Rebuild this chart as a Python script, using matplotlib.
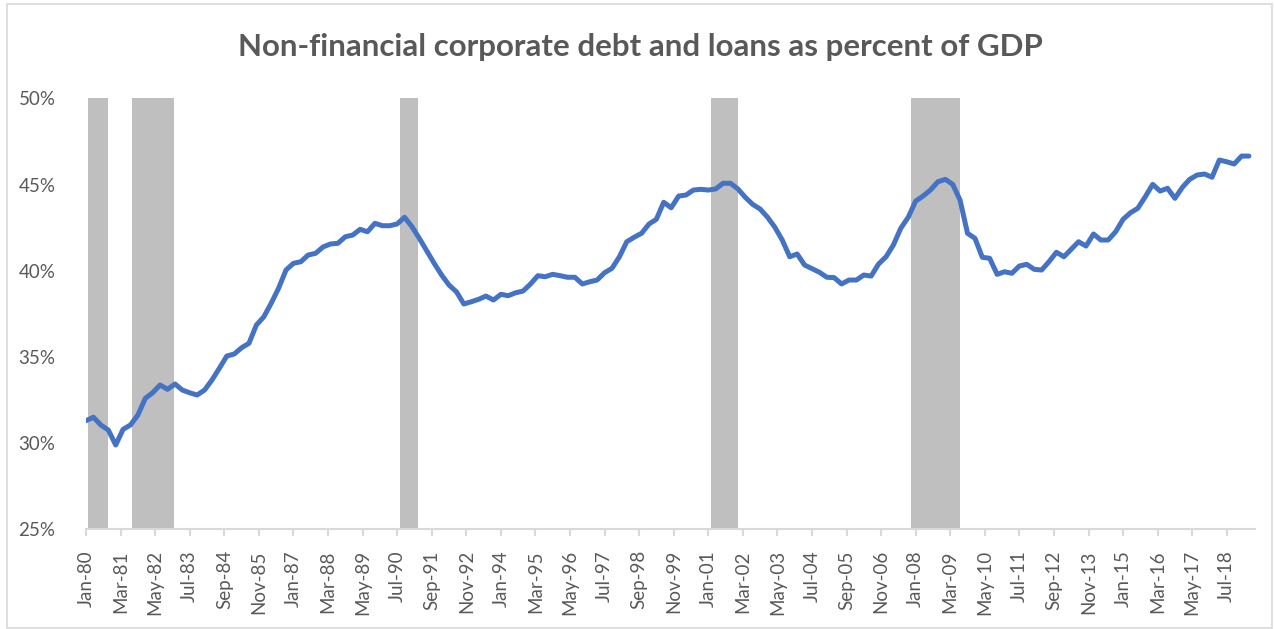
import pandas as pd
import matplotlib.pyplot as plt
import matplotlib.dates as md
from matplotlib.patches import Rectangle
from matplotlib.ticker import FuncFormatter

# quarterly ratio, 1980Q1 onwards (percent of GDP)
debt_pct = [
    31.30, 31.50, 31.05, 30.76, 29.89, 30.80, 31.05, 31.63, 32.60, 32.92,
    33.37, 33.12, 33.43, 33.08, 32.92, 32.79, 33.08, 33.66, 34.34, 35.05,
    35.17, 35.53, 35.79, 36.85, 37.33, 38.11, 38.98, 40.04, 40.43, 40.52,
    40.91, 41.01, 41.38, 41.55, 41.59, 41.97, 42.07, 42.40, 42.26, 42.75,
    42.61, 42.61, 42.71, 43.10, 42.55, 41.88, 41.16, 40.43, 39.75, 39.17,
    38.78, 38.07, 38.20, 38.34, 38.53, 38.30, 38.63, 38.55, 38.72, 38.82,
    39.23, 39.71, 39.65, 39.79, 39.71, 39.62, 39.62, 39.23, 39.36, 39.46,
    39.88, 40.14, 40.81, 41.68, 41.94, 42.17, 42.71, 42.98, 43.97, 43.65,
    44.33, 44.39, 44.68, 44.72, 44.68, 44.74, 45.07, 45.07, 44.74, 44.26,
    43.85, 43.58, 43.10, 42.52, 41.78, 40.81, 40.97, 40.33, 40.12, 39.91,
    39.62, 39.60, 39.23, 39.46, 39.46, 39.75, 39.69, 40.39, 40.81, 41.49,
    42.46, 43.10, 44.04, 44.33, 44.68, 45.16, 45.30, 45.01, 44.10, 42.17,
    41.88, 40.78, 40.72, 39.79, 39.94, 39.85, 40.27, 40.37, 40.08, 40.04,
    40.52, 41.07, 40.81, 41.24, 41.68, 41.43, 42.13, 41.78, 41.78, 42.26,
    42.98, 43.36, 43.62, 44.29, 45.01, 44.62, 44.78, 44.20, 44.84, 45.30,
    45.55, 45.61, 45.42, 46.42, 46.32, 46.19, 46.65, 46.65,
]
quarters = pd.date_range("1980-01-01", periods=len(debt_pct), freq="QS")

# shaded recession periods
rec_start = ["1980-01-20", "1981-07-20", "1990-08-01", "2001-01-28", "2007-11-10"]
rec_end = ["1980-09-28", "1982-12-20", "1991-03-20", "2002-01-01", "2009-06-25"]

tick_dates = pd.date_range("1980-01-01", "2018-07-01", freq="14MS")

grey = "#595959"
plt.rcParams["font.family"] = ["Lato", "DejaVu Sans"]

fig = plt.figure(figsize=(12.75, 6.29), dpi=100)
ax = fig.add_axes([0.0675, 0.1585, 0.9165, 0.6852])

for s, e in zip(rec_start, rec_end):
    ax.axvspan(pd.Timestamp(s), pd.Timestamp(e), color="#bfbfbf", lw=0, zorder=1)

ax.plot(quarters, [v / 100 for v in debt_pct], color="#4472c4", lw=3.6,
        solid_joinstyle="round", solid_capstyle="round", zorder=3)

ax.set_ylim(0.25, 0.50)
ax.set_yticks([0.25, 0.30, 0.35, 0.40, 0.45, 0.50])
ax.yaxis.set_major_formatter(FuncFormatter(lambda v, _: f"{v * 100:.0f}%"))
ax.set_xlim(pd.Timestamp("1980-01-01"), pd.Timestamp("2019-06-10"))
ax.set_xticks(tick_dates)
ax.xaxis.set_major_formatter(md.DateFormatter("%b-%y"))

for side in ["top", "right", "left"]:
    ax.spines[side].set_visible(False)
ax.spines["bottom"].set_color("#d9d9d9")
ax.spines["bottom"].set_linewidth(1.5)

ax.tick_params(axis="y", length=0, pad=22, labelsize=13.5, labelcolor=grey)
ax.tick_params(axis="x", length=5, width=1.5, color="#d9d9d9", pad=10,
               labelsize=13.5, labelcolor=grey, labelrotation=90)

fig.text(0.502, 0.925, "Non-financial corporate debt and loans as percent of GDP",
         ha="center", va="center", fontsize=22.5, fontweight="bold", color=grey)

# chart area border
fig.patches.append(Rectangle((7 / 1275, 1 / 629), 1265 / 1275, 624 / 629,
                             transform=fig.transFigure, fill=False,
                             edgecolor="#d9d9d9", lw=1.2))

fig.savefig("out.png", dpi=100)
